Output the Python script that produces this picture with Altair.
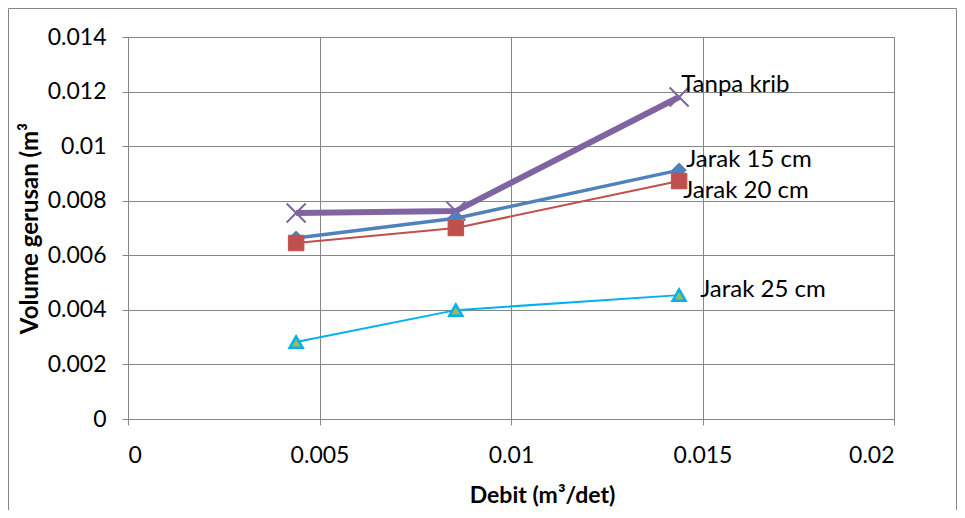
import altair as alt
import pandas as pd

debit = [0.00439, 0.00856, 0.01439]
series_names = ["Tanpa krib", "Jarak 15 cm", "Jarak 20 cm", "Jarak 25 cm"]
tanpa_krib = [0.00755, 0.00762, 0.0118]
jarak_15 = [0.00663, 0.00736, 0.00912]
jarak_20 = [0.00645, 0.00700, 0.00872]
jarak_25 = [0.00282, 0.00399, 0.00454]
x_ticks = [0, 0.005, 0.01, 0.015, 0.02]
y_ticks = [0, 0.002, 0.004, 0.006, 0.008, 0.01, 0.012, 0.014]

values = [tanpa_krib, jarak_15, jarak_20, jarak_25]
rows = []
for name, vals in zip(series_names, values):
    for d, v in zip(debit, vals):
        rows.append({"series": name, "debit": d, "volume": v})
df = pd.DataFrame(rows)

FONT = "Lato"
GRID = "#868686"

xscale = alt.Scale(domain=[0, 0.02], nice=False, zero=True)
yscale = alt.Scale(domain=[0, 0.014], nice=False, zero=True)

xaxis = alt.Axis(values=x_ticks, format="~g", title="Debit (m³/det)",
                 labelFontSize=23, labelPadding=19, tickSize=6, labelFont=FONT,
                 titleFont=FONT, titleFontSize=23, titleFontWeight="bold",
                 titleX=414, titleY=76, titleBaseline="middle", titleAlign="center",
                 grid=True, gridColor=GRID, domainColor=GRID, tickColor=GRID,
                 labelColor="black", titleColor="black")
yaxis = alt.Axis(values=y_ticks, format="~g", title="Volume gerusan (m³",
                 labelFontSize=23, labelPadding=16, tickSize=6, labelFont=FONT,
                 titleFont=FONT, titleFontSize=24, titleFontWeight="bold",
                 titleX=-98, titleY=191, titleAngle=-90, titleBaseline="middle",
                 titleAlign="center",
                 grid=True, gridColor=GRID, domainColor=GRID, tickColor=GRID,
                 labelColor="black", titleColor="black")

styles = {
    "Tanpa krib": dict(color="#8064A2", width=6, shape="M-1,-1L1,1M-1,1L1,-1",
                       size=360, filled=False, stroke="#8064A2", fill=None, sw=2,
                       dx=2, dy=-12),
    "Jarak 15 cm": dict(color="#4F81BD", width=3.5, shape="diamond", size=200,
                        filled=True, stroke="#4F81BD", fill="#4F81BD", sw=1,
                        dx=7, dy=-10),
    "Jarak 20 cm": dict(color="#C0504D", width=2, shape="square", size=240,
                        filled=True, stroke="#C0504D", fill="#C0504D", sw=1,
                        dx=4, dy=10),
    "Jarak 25 cm": dict(color="#00B0F0", width=2, shape="triangle-up", size=170,
                        filled=True, stroke="#00B0F0", fill="#9BBB59", sw=2.5,
                        dx=21, dy=-5),
}

layers = []
for name in series_names:
    s = styles[name]
    sub = alt.Chart(df).transform_filter(alt.datum.series == name)
    enc = dict(x=alt.X("debit:Q", scale=xscale, axis=xaxis),
               y=alt.Y("volume:Q", scale=yscale, axis=yaxis))
    line = sub.mark_line(color=s["color"], strokeWidth=s["width"]).encode(**enc)
    if s["filled"]:
        pt = sub.mark_point(shape=s["shape"], size=s["size"], filled=True,
                            fill=s["fill"], stroke=s["stroke"],
                            strokeWidth=s["sw"], opacity=1).encode(**enc)
    else:
        pt = sub.mark_point(shape=s["shape"], size=s["size"], filled=False,
                            stroke=s["stroke"], strokeWidth=s["sw"],
                            opacity=1).encode(**enc)
    lab = alt.Chart(df).transform_filter(
        (alt.datum.series == name) & (alt.datum.debit == debit[-1])
    ).mark_text(align="left", baseline="middle", dx=s["dx"], dy=s["dy"],
                font=FONT, fontSize=24, color="black").encode(
        x=alt.X("debit:Q", scale=xscale, axis=xaxis),
        y=alt.Y("volume:Q", scale=yscale, axis=yaxis),
        text="series:N")
    layers += [line, pt, lab]

frame = alt.Chart(pd.DataFrame({"a": [0]})).mark_rule(color=GRID, strokeWidth=1)
top = frame.encode(x=alt.value(-119.5), x2=alt.value(828.5), y=alt.value(-28.5))
left = frame.encode(x=alt.value(-119.5), y=alt.value(-28.5), y2=alt.value(475))
right = frame.encode(x=alt.value(828.5), y=alt.value(-28.5), y2=alt.value(475))

chart = alt.layer(top, left, right, *layers).properties(
    width=766, height=382,
    autosize=alt.AutoSizeParams(type="none"),
    padding={"left": 120, "top": 29, "right": 63, "bottom": 91},
).configure_view(stroke=None).configure(background="white")

chart.save("out.html", embed_options={"renderer": "svg", "actions": False})
